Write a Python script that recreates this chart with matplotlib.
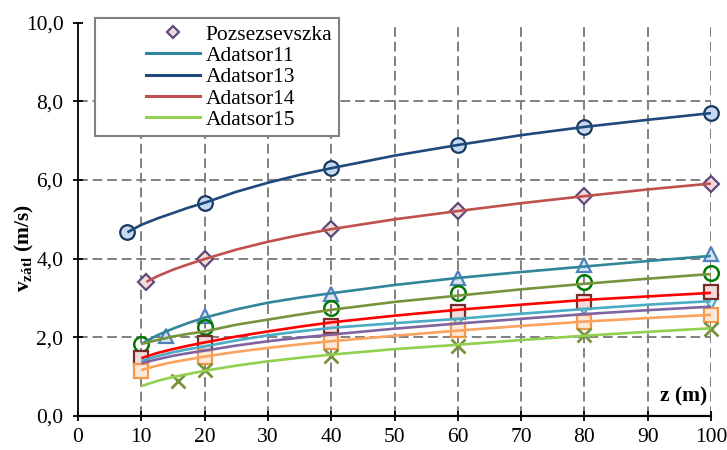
import numpy as np
import matplotlib
matplotlib.use("Agg")
import matplotlib.pyplot as plt
from matplotlib.lines import Line2D
from matplotlib.legend_handler import HandlerLine2D

plt.rcParams['font.family'] = ['Liberation Serif', 'DejaVu Serif']
plt.rcParams['mathtext.fontset'] = 'custom'
plt.rcParams['mathtext.rm'] = 'Liberation Serif'
plt.rcParams['mathtext.bf'] = 'Liberation Serif:bold'
plt.rcParams['font.size'] = 15.5

# measured points (markers)
z_circ_blue = [7.8, 20, 40, 60, 80, 100]
v_circ_blue = [4.67, 5.42, 6.30, 6.89, 7.35, 7.70]

z_diam = [10.8, 20, 40, 60, 80, 100]
v_diam = [3.41, 3.99, 4.75, 5.21, 5.59, 5.91]

z_tri = [13.9, 20, 40, 60, 80, 100]
v_tri = [2.03, 2.55, 3.10, 3.50, 3.84, 4.12]

z_circ_green = [10, 20, 40, 60, 80, 100]
v_circ_green = [1.83, 2.25, 2.75, 3.13, 3.41, 3.64]

z_sq_red = [10, 20, 40, 60, 80, 100]
v_sq_red = [1.47, 1.85, 2.30, 2.64, 2.91, 3.14]

z_tri_cyan = [60, 80, 100]
v_tri_cyan = [2.44, 2.74, 2.88]

z_sq_orange = [10, 20, 40, 60, 80, 100]
v_sq_orange = [1.15, 1.50, 1.87, 2.19, 2.40, 2.57]

z_x = [15.8, 20, 40, 60, 80, 100]
v_x = [0.89, 1.17, 1.53, 1.79, 2.06, 2.22]

# curves
z_line = [10, 12.5, 15, 17.5, 20, 25, 30, 35, 40, 50, 60, 70, 80, 90, 100]
z_line13 = [7.8, 10, 12.5, 15, 17.5, 20, 25, 30, 35, 40, 50, 60, 70, 80, 90, 100]
v_adatsor13 = [4.67, 4.86, 5.02, 5.16, 5.30, 5.42, 5.70, 5.93, 6.13, 6.30, 6.62, 6.89, 7.14, 7.35, 7.53, 7.70]
z_line14 = [10.8, 12.5, 15, 17.5, 20, 25, 30, 35, 40, 50, 60, 70, 80, 90, 100]
v_adatsor14 = [3.41, 3.55, 3.72, 3.86, 3.99, 4.23, 4.43, 4.60, 4.75, 5.00, 5.21, 5.41, 5.59, 5.76, 5.91]
v_adatsor11 = [1.83, 2.05, 2.22, 2.37, 2.50, 2.71, 2.88, 3.01, 3.12, 3.33, 3.51, 3.66, 3.80, 3.94, 4.07]
v_olive = [1.83, 1.93, 2.02, 2.09, 2.15, 2.32, 2.45, 2.58, 2.70, 2.90, 3.06, 3.22, 3.36, 3.49, 3.61]
v_red = [1.47, 1.60, 1.70, 1.79, 1.87, 2.02, 2.15, 2.27, 2.38, 2.55, 2.70, 2.83, 2.95, 3.04, 3.13]
v_cyan = [1.40, 1.52, 1.62, 1.70, 1.77, 1.92, 2.05, 2.15, 2.24, 2.36, 2.47, 2.60, 2.72, 2.83, 2.92]
v_purple = [1.34, 1.44, 1.53, 1.60, 1.66, 1.79, 1.90, 1.99, 2.07, 2.22, 2.35, 2.47, 2.59, 2.69, 2.78]
v_orange = [1.17, 1.28, 1.37, 1.44, 1.51, 1.63, 1.73, 1.82, 1.90, 2.04, 2.17, 2.29, 2.40, 2.49, 2.57]
v_adatsor15 = [0.76, 0.89, 0.99, 1.07, 1.15, 1.28, 1.39, 1.48, 1.56, 1.70, 1.81, 1.93, 2.04, 2.14, 2.23]

x_ticks = [0, 10, 20, 30, 40, 50, 60, 70, 80, 90, 100]
y_ticks = [0, 2, 4, 6, 8, 10]
y_ticklabels = ['0,0', '2,0', '4,0', '6,0', '8,0', '10,0']


class RightLine(HandlerLine2D):
    # line drawn only on the right part of the handle box
    def get_xdata(self, legend, xdescent, ydescent, width, height, fontsize):
        x0 = -xdescent + width * 0.45
        x1 = -xdescent + width
        return np.array([x0, x1]), np.array([(x0 + x1) / 2])


fig = plt.figure(figsize=(7.27, 4.5), dpi=100)
ax = fig.add_axes([0.1073, 0.0756, 0.8707, 0.8740])

ax.set_xlim(0, 100)
ax.set_ylim(0, 10)

# dashed grid
for x in x_ticks[1:]:
    ax.axvline(x, color='#808080', lw=1.4, ls=(0, (5, 2.5)), zorder=1)
for y in y_ticks[1:-1]:
    ax.axhline(y, color='#808080', lw=1.4, ls=(0, (5, 2.5)), zorder=1)

mk = dict(ls='none', clip_on=False, zorder=3)
ax.plot(z_circ_blue, v_circ_blue, marker='o', ms=10.5, mfc='#C6D9F1', mec='#17375E', mew=1.6, **mk)
ax.plot(z_diam, v_diam, marker='D', ms=8, mfc='#F2DCDB', mec='#5F497A', mew=1.6, **mk)
ax.plot(z_tri, v_tri, marker='^', ms=10.5, mfc='#DBE5F1', mec='#4F81BD', mew=1.6, **mk)
ax.plot(z_tri_cyan, v_tri_cyan, marker='v', ms=10, mfc='#DAEEF3', mec='#4BACC6', mew=1.6, **mk)
ax.plot(z_circ_green, v_circ_green, marker='o', ms=10.5, mfc='none', mec='#007A00', mew=1.8, **mk)
ax.plot(z_sq_red, v_sq_red, marker='s', ms=10, mfc='#F2DCDB', mec='#772C2A', mew=1.6, **mk)
ax.plot(z_sq_orange, v_sq_orange, marker='s', ms=10, mfc='#FDE9D9', mec='#F79646', mew=1.6, **mk)
ax.plot(z_x, v_x, marker='x', ms=9.5, mec='#77933C', mew=2, **mk)

ln = dict(lw=1.9, clip_on=False, zorder=4, solid_capstyle='butt', solid_joinstyle='round')
ax.plot(z_line13, v_adatsor13, color='#1F497D', **ln)
ax.plot(z_line14, v_adatsor14, color='#C0504D', **ln)
ax.plot(z_line, v_adatsor11, color='#31859C', **ln)
ax.plot(z_line, v_olive, color='#77933C', **ln)
ax.plot(z_line, v_red, color='#FF0000', **ln)
ax.plot(z_line, v_cyan, color='#4BACC6', **ln)
ax.plot(z_line, v_purple, color='#8064A2', **ln)
ax.plot(z_line, v_orange, color='#FAA35E', **ln)
ax.plot(z_line, v_adatsor15, color='#92D050', **ln)

ax.set_xticks(x_ticks)
ax.set_xticklabels([str(x) for x in x_ticks])
ax.set_yticks(y_ticks)
ax.set_yticklabels(y_ticklabels)
ax.tick_params(axis='both', direction='inout', length=7, width=1.3, labelsize=15.5)
ax.tick_params(axis='x', pad=5)
ax.tick_params(axis='y', pad=7)

for s in ['top', 'right']:
    ax.spines[s].set_visible(False)
ax.spines['left'].set_linewidth(1.3)
ax.spines['bottom'].set_linewidth(1.6)

ax.text(0.994, 0.023, 'z (m)', transform=ax.transAxes, ha='right', va='bottom',
        fontweight='bold', fontsize=15.5)
fig.text(24 / 727, 1 - 248 / 450, r'$\mathbf{v}_{\mathbf{zátl}}$ (m/s)', rotation=90,
         ha='center', va='center', fontweight='bold', fontsize=15.5)

handles = [
    Line2D([], [], ls='none', marker='D', ms=6, mfc='#F2DCDB', mec='#5F497A', mew=1.6),
    Line2D([], [], color='#31859C', lw=2.2),
    Line2D([], [], color='#1F497D', lw=2.2),
    Line2D([], [], color='#C0504D', lw=2.2),
    Line2D([], [], color='#92D050', lw=2.2),
]
labels = ['Pozsezsevszka', 'Adatsor11', 'Adatsor13', 'Adatsor14', 'Adatsor15']
leg = fig.legend(handles, labels, loc='upper left',
                 bbox_to_anchor=(95 / 727, 1 - 18 / 450), bbox_transform=fig.transFigure,
                 borderaxespad=0, fontsize=15.5, handlelength=4.6, handletextpad=0.25,
                 borderpad=0.3, labelspacing=0.06, fancybox=False, framealpha=1,
                 edgecolor='#808080', handler_map={Line2D: RightLine()})
leg.get_frame().set_linewidth(1.5)
leg.set_zorder(10)

fig.savefig('out.png', dpi=100)
